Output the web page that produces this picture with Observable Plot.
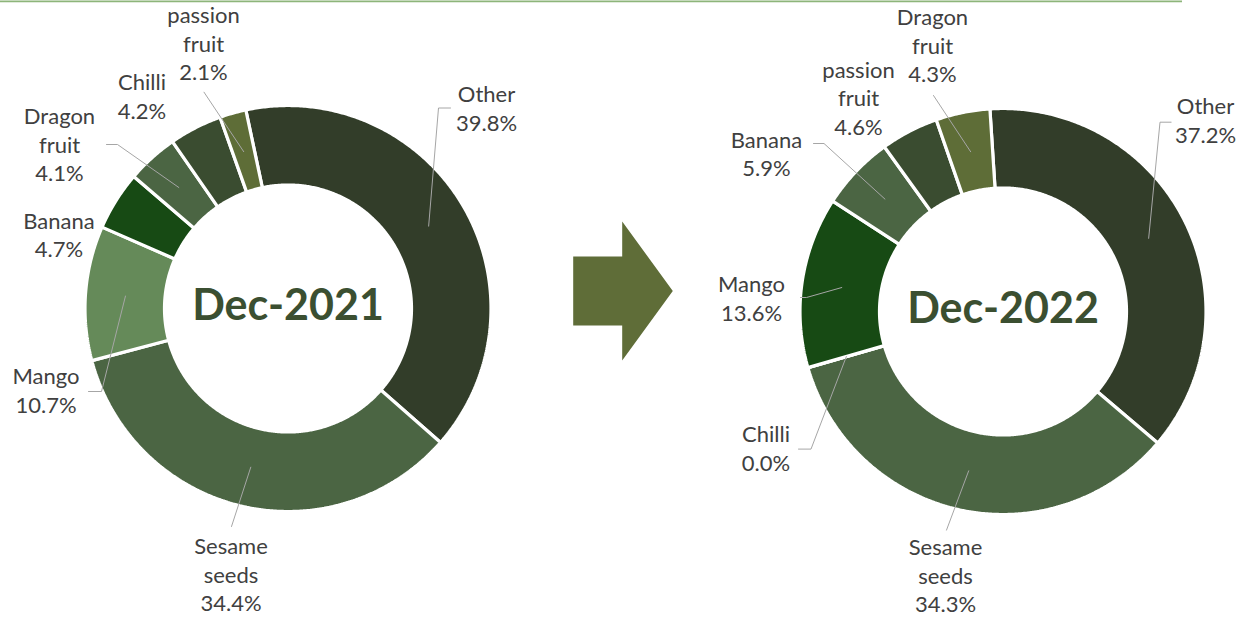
<!DOCTYPE html>
<html><head><meta charset="utf-8">
<script src="https://cdn.jsdelivr.net/npm/d3@7"></script>
<script src="https://cdn.jsdelivr.net/npm/@observablehq/plot@0.6"></script>
<style>html,body{margin:0;padding:0;background:#fff;overflow:hidden}svg{display:block}</style>
</head><body><div id="chart"></div>
<script>
// ---- data ----
const periods = ["Dec-2021", "Dec-2022"];
const categories2021 = ["Other", "Sesame seeds", "Mango", "Banana", "Dragon fruit", "Chilli", "passion fruit"];
const values2021 = [39.8, 34.4, 10.7, 4.7, 4.1, 4.2, 2.1];
const categories2022 = ["Other", "Sesame seeds", "Chilli", "Mango", "Banana", "passion fruit", "Dragon fruit"];
const values2022 = [37.2, 34.3, 0.0, 13.6, 5.9, 4.6, 4.3];
const sliceColors = ["#323d29", "#4b6543", "#658a59", "#174a14", "#4b6543", "#3a4c30", "#5e6d37"];

// ---- layout ----
const W = 1236, H = 617;
const donuts = [{cx: 287.5, cy: 308, startDeg: -12}, {cx: 1002.5, cy: 311, startDeg: -3.7}];
const rOuter = 203, rInner = 123.5, rLeader = 163;
const labelShift = -3;
const labelLayout = [
  {
    "Other": {x: 486, y: 110, leader: [[450, 107.5], [438, 107.5]]},
    "Sesame seeds": {x: 230.5, y: 576, leader: [[231, 526]]},
    "Mango": {x: 45.5, y: 392, leader: [[88, 391], [101, 391]]},
    "Banana": {x: 58.5, y: 236.5, leader: null},
    "Dragon fruit": {x: 59, y: 146, leader: [[106, 144], [117, 144]]},
    "Chilli": {x: 141.5, y: 98, leader: null},
    "passion fruit": {x: 203, y: 45, leader: [[203.5, 91.7]]}
  },
  {
    "Other": {x: 1205, y: 122, leader: [[1170.6, 121.7], [1159.5, 121.7]]},
    "Sesame seeds": {x: 945, y: 577, leader: [[946, 529.6]]},
    "Chilli": {x: 765.5, y: 450, leader: [[798, 448.6], [810.5, 448.6]]},
    "Mango": {x: 751, y: 300, leader: [[800, 297], [806, 297]]},
    "Banana": {x: 766, y: 155.5, leader: [[813, 143], [823.5, 143]]},
    "passion fruit": {x: 858, y: 99.5, leader: null},
    "Dragon fruit": {x: 932, y: 47, leader: [[933, 95]]}
  }
];
const arrow = {x0: 572.7, xNeck: 621.7, xTip: 672.3, yMid: 290.5, bodyHalf: 34.5, headHalf: 69.5};

// ---- build geometry from data ----
const series = [[categories2021, values2021], [categories2022, values2022]];
const ringPts = [], labels = [], leaderPts = [], centers = [];
series.forEach(([cats, vals], i) => {
  const d = donuts[i];
  const a0 = d.startDeg * Math.PI / 180;
  const arcs = d3.pie().sort(null).value(v => v).startAngle(a0).endAngle(a0 + 2 * Math.PI)(vals);
  arcs.forEach((p, j) => {
    const id = `${i}-${j}`;
    const span = p.endAngle - p.startAngle;
    const steps = Math.max(1, Math.ceil(span / (Math.PI / 360)));
    const pol = (r, a) => ({x: d.cx + r * Math.sin(a), y: d.cy - r * Math.cos(a)});
    for (let k = 0; k <= steps; k++) {
      const a = p.startAngle + span * k / steps;
      ringPts.push({id, color: sliceColors[j], ...pol(rOuter, a)});
    }
    for (let k = steps; k >= 0; k--) {
      const a = p.startAngle + span * k / steps;
      ringPts.push({id, color: sliceColors[j], ...pol(rInner, a)});
    }
    const L = labelLayout[i][cats[j]];
    labels.push({x: L.x, y: L.y + labelShift, text: `${cats[j].replace(" ", "\n")}\n${vals[j].toFixed(1)}%`});
    if (L.leader) {
      const mid = (p.startAngle + p.endAngle) / 2;
      L.leader.forEach(([x, y]) => leaderPts.push({id, x, y}));
      leaderPts.push({id, ...pol(rLeader, mid)});
    }
  });
  centers.push({x: d.cx, y: d.cy - 2, text: periods[i]});
});
const arrowPts = [
  [arrow.x0, arrow.yMid - arrow.bodyHalf], [arrow.xNeck, arrow.yMid - arrow.bodyHalf],
  [arrow.xNeck, arrow.yMid - arrow.headHalf], [arrow.xTip, arrow.yMid],
  [arrow.xNeck, arrow.yMid + arrow.headHalf], [arrow.xNeck, arrow.yMid + arrow.bodyHalf],
  [arrow.x0, arrow.yMid + arrow.bodyHalf]
].map(([x, y]) => ({x, y}));

const chart = Plot.plot({
  width: W, height: H, margin: 0,
  x: {domain: [0, W], axis: null},
  y: {domain: [0, H], reverse: true, axis: null},
  color: {type: "identity"},
  style: {background: "#fff", fontFamily: "Lato, 'Open Sans', sans-serif", overflow: "visible"},
  marks: [
    Plot.ruleY([0.8], {x1: 0, x2: 1182, stroke: "#8db57a", strokeWidth: 1.8}),
    Plot.line(arrowPts, {x: "x", y: "y", fill: "#5f6d38", stroke: "none", curve: "linear-closed"}),
    Plot.line(ringPts, {x: "x", y: "y", z: "id", fill: "color", stroke: "#fff", strokeWidth: 3.2, strokeLinejoin: "miter", curve: "linear-closed"}),
    Plot.line(leaderPts, {x: "x", y: "y", z: "id", stroke: "#a6a6a6", strokeWidth: 1}),
    Plot.text(labels, {x: "x", y: "y", text: "text", fontSize: 22, lineHeight: 1.3, fill: "#404040", fontFamily: "Lato"}),
    Plot.text(centers, {x: "x", y: "y", text: "text", fontSize: 43, fontWeight: "bold", fill: "#3b4f31", fontFamily: "Lato"})
  ]
});
document.getElementById("chart").appendChild(chart);
</script>
</body></html>
